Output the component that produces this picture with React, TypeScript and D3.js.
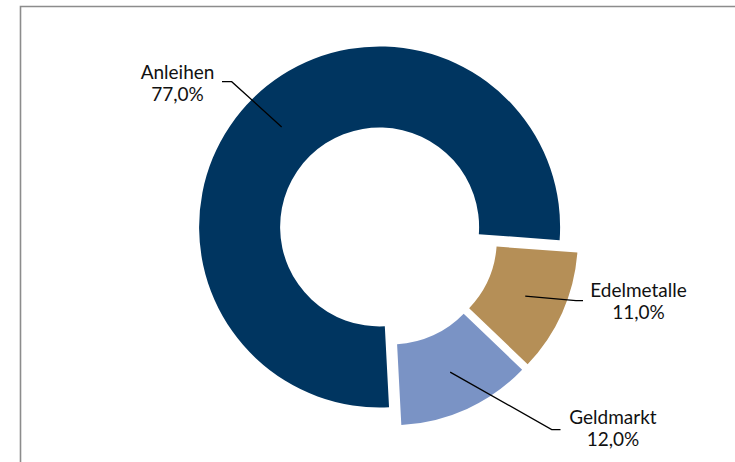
import React from "react";
import * as d3 from "d3";

const categories = ["Anleihen", "Edelmetalle", "Geldmarkt"];
const values = [77.0, 11.0, 12.0];
const valueLabels = ["77,0%", "11,0%", "12,0%"];
const colors = ["#003560", "#b58f57", "#7a93c5"];

// label layout (text centre x, first baseline y, leader elbow and end)
const labelLayout = [
  { tx: 177.5, ty: 78.5, elbow: [231.7, 81.7], end: [222, 81.7] },
  { tx: 638.5, ty: 296.7, elbow: [576, 300.6], end: [583, 300.6] },
  { tx: 613, ty: 424.3, elbow: [551.7, 429.6], end: [560.5, 429.6] },
];

const W = 735;
const H = 462;
const cx = 387.3;
const cy = 234.8;
const rOuter = 180.5;
const rInner = 99.5;
const explode = 11;
const startDeg = 177;

export default function App() {
  const pie = d3
    .pie<number>()
    .sort(null)
    .value((d) => d)
    .startAngle((startDeg * Math.PI) / 180)
    .endAngle((startDeg * Math.PI) / 180 + 2 * Math.PI);
  const arcs = pie(values);
  const arc = d3.arc<d3.PieArcDatum<number>>().innerRadius(rInner).outerRadius(rOuter);

  return (
    <svg
      width={W}
      height={H}
      style={{ position: "absolute", left: 0, top: 0, display: "block" }}
    >
      <rect x={0} y={0} width={W} height={H} fill="#fff" />
      <path d={`M20.5,${H} V6.5 H${W}`} fill="none" stroke="#8c8c8c" strokeWidth={1.6} />
      {arcs.map((a, i) => {
        const mid = (a.startAngle + a.endAngle) / 2;
        const ox = cx + explode * Math.sin(mid);
        const oy = cy - explode * Math.cos(mid);
        const [px, py] = arc.centroid(a);
        const L = labelLayout[i];
        return (
          <g key={categories[i]}>
            <path d={arc(a) || ""} transform={`translate(${ox},${oy})`} fill={colors[i]} />
            <polyline
              points={`${ox + px},${oy + py} ${L.elbow[0]},${L.elbow[1]} ${L.end[0]},${L.end[1]}`}
              fill="none"
              stroke="#000"
              strokeWidth={1.3}
            />
          </g>
        );
      })}
      {arcs.map((a, i) => {
        const L = labelLayout[i];
        return (
          <text
            key={"t" + i}
            x={L.tx}
            y={L.ty}
            textAnchor="middle"
            fontFamily="Lato, 'Open Sans', sans-serif"
            fontSize={19}
            fill="#111"
          >
            <tspan x={L.tx}>{categories[i]}</tspan>
            <tspan x={L.tx} dy={22}>
              {valueLabels[i]}
            </tspan>
          </text>
        );
      })}
    </svg>
  );
}
